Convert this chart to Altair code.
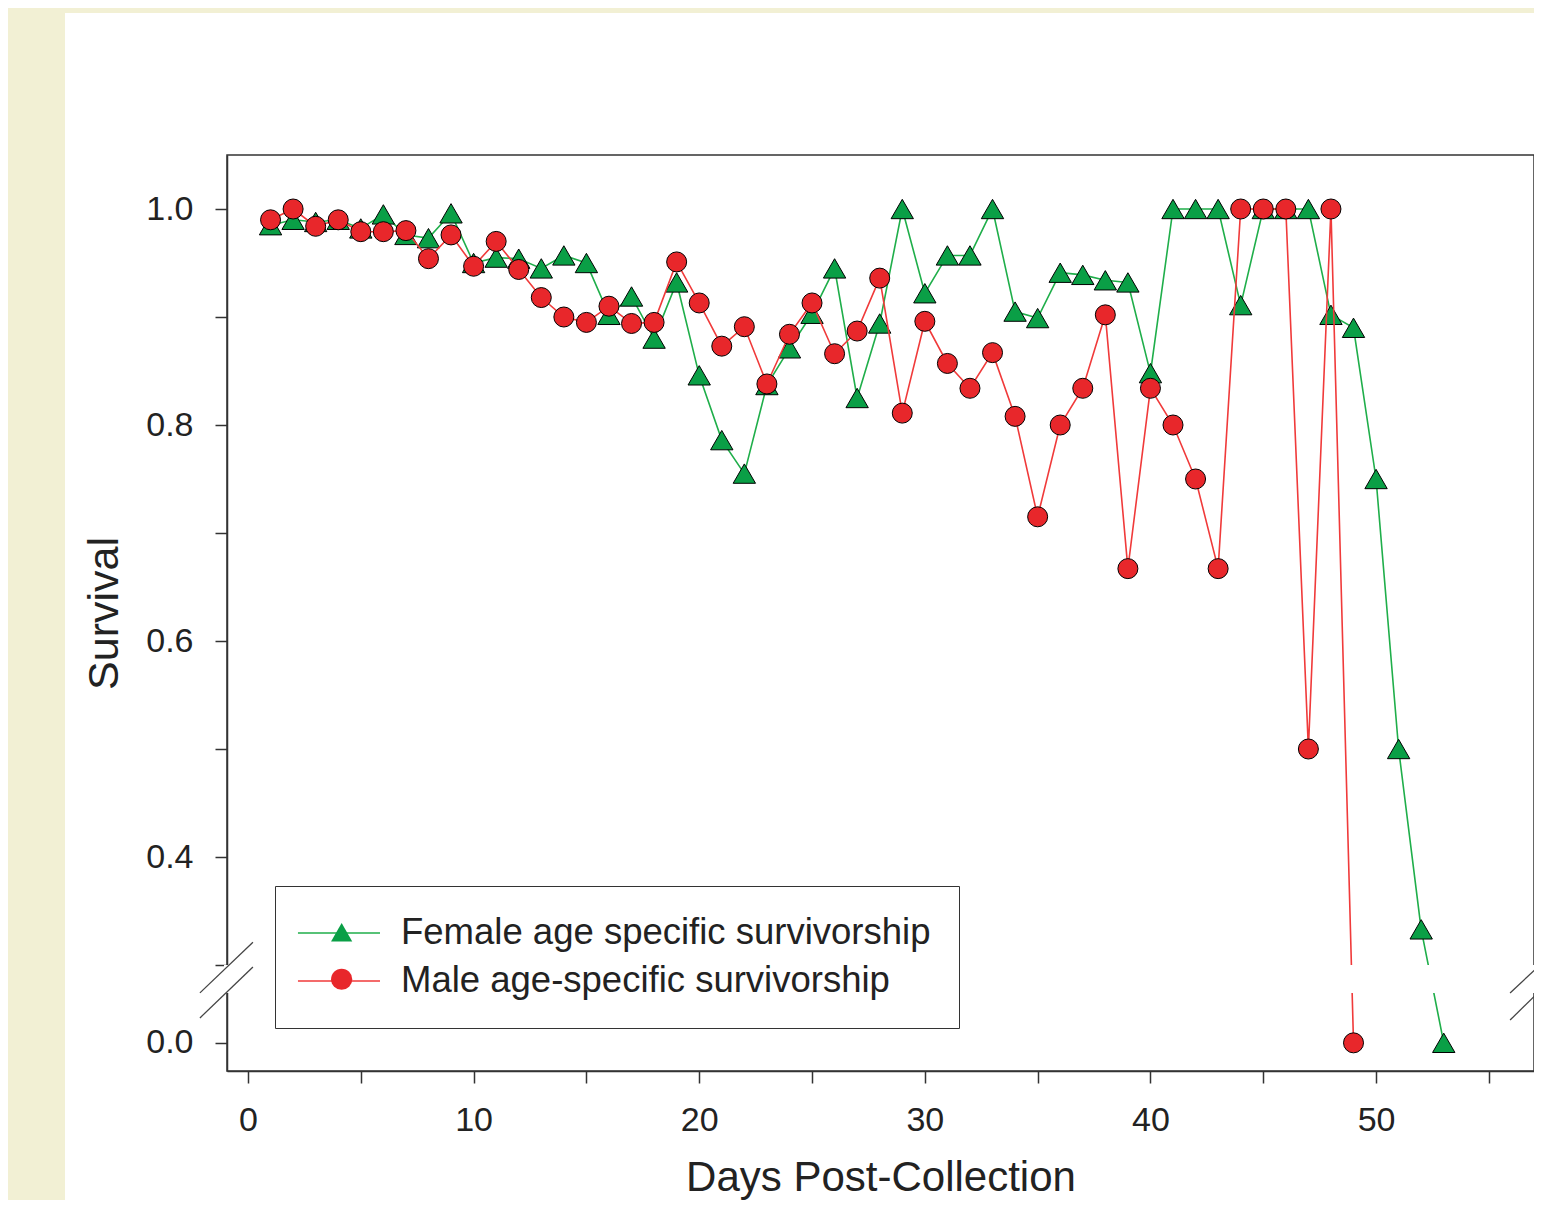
import altair as alt
import pandas as pd

FONT = "Liberation Sans"

F_LABEL = "Female age specific survivorship"
M_LABEL = "Male age-specific survivorship"

days_female = list(range(1, 54))
female = [0.985, 0.99, 0.988, 0.99, 0.982, 0.995, 0.976, 0.973, 0.996, 0.95,
          0.955, 0.954, 0.945, 0.957, 0.95, 0.902, 0.919, 0.88, 0.932, 0.846,
          0.786, 0.755, 0.837, 0.871, 0.903, 0.945, 0.825, 0.894, 1.0, 0.922,
          0.957, 0.957, 1.0, 0.905, 0.899, 0.941, 0.939, 0.934, 0.932, 0.848,
          1.0, 1.0, 1.0, 0.911, 1.0, 1.0, 1.0, 0.902, 0.89, 0.75,
          0.5, 0.333, 0.0]

days_male = list(range(1, 50))
male = [0.99, 1.0, 0.984, 0.99, 0.979, 0.979, 0.98, 0.954, 0.976, 0.947,
        0.97, 0.944, 0.918, 0.90, 0.895, 0.91, 0.894, 0.895, 0.951, 0.913,
        0.873, 0.891, 0.838, 0.884, 0.913, 0.866, 0.887, 0.936, 0.811, 0.896,
        0.857, 0.834, 0.867, 0.808, 0.715, 0.80, 0.834, 0.902, 0.667, 0.834,
        0.80, 0.75, 0.667, 1.0, 1.0, 1.0, 0.5, 1.0, 0.0]

# axis break (values hidden between the two segments)
break_lo = [0.047]
break_hi = [0.299]
# break slash marks: x1, x2 (days), y1, y2 (survival)
slash_x1 = [-2.13, -2.13, 55.94, 55.94]
slash_x2 = [0.22, 0.22, 58.29, 58.29]
slash_y1 = [0.047, 0.023, 0.046, 0.021]
slash_y2 = [0.321, 0.282, 0.320, 0.273]

x_ticks = list(range(0, 56, 5))
y_ticks = [0.0, 0.3, 0.4, 0.5, 0.6, 0.7, 0.8, 0.9, 1.0]

GREEN_LINE = "#1fae4a"
GREEN_FILL = "#0a9f46"
RED_LINE = "#f03a3a"
RED_FILL = "#e8272b"

W, H = 1307, 916

df_f = pd.DataFrame({"day": days_female, "survival": female,
                     "series": F_LABEL, "key": "F"})
df_m = pd.DataFrame({"day": days_male, "survival": male,
                     "series": M_LABEL, "key": "M"})

xscale = alt.Scale(domain=[-0.93, 57.0], zero=False, nice=False)
yscale = alt.Scale(domain=[-0.026, 0.046, 0.3, 1.05], range=[H, 838, 810, 0],
                   zero=False, nice=False)

x_enc = alt.X("day:Q", scale=xscale, title="Days Post-Collection",
              axis=alt.Axis(values=x_ticks, tickSize=12, labelPadding=20,
                            labelFlush=False, titlePadding=20,
                            labelExpr="datum.value % 10 == 0 ? datum.label : ''"))
y_enc = alt.Y("survival:Q", scale=yscale, title="Survival",
              axis=alt.Axis(values=y_ticks, tickSize=12, labelPadding=22,
                            titlePadding=19, titleFontSize=43,
                            labelExpr="round(datum.value*10) % 2 == 0 ? format(datum.value, '.1f') : ''"))

legend_lines = alt.Legend(orient="none", legendX=48, legendY=731, padding=28,
                          strokeColor="#333", fillColor="white", title=None,
                          symbolType="M-2.28,0L2.28,0", symbolSize=1296,
                          symbolStrokeWidth=1.6, symbolOffset=17,
                          labelOffset=43, rowPadding=10, labelFont=FONT,
                          labelFontSize=36.5, labelColor="#222", labelLimit=1000)
legend_marks = alt.Legend(orient="none", legendX=48, legendY=731, padding=28,
                          title=None, symbolSize=450, symbolOffset=20.4,
                          symbolStrokeColor="black", symbolStrokeWidth=1,
                          symbolOpacity=1, labelOffset=43, rowPadding=10,
                          labelFont=FONT, labelFontSize=36.5, labelExpr="''",
                          labelLimit=1000)

color_enc = alt.Color("series:N", scale=alt.Scale(domain=[F_LABEL, M_LABEL],
                                                  range=[GREEN_LINE, RED_LINE]),
                      legend=legend_lines)
fill_enc = alt.Fill("key:N", scale=alt.Scale(domain=["F", "M"],
                                             range=[GREEN_FILL, RED_FILL]),
                    legend=legend_marks)
shape_enc = alt.Shape("key:N", scale=alt.Scale(domain=["F", "M"],
                                               range=["triangle-up", "circle"]),
                      legend=legend_marks)

line_f = alt.Chart(df_f).mark_line(strokeWidth=1.6).encode(x=x_enc, y=y_enc, color=color_enc)
pts_f = alt.Chart(df_f).mark_point(filled=True, stroke="black", strokeWidth=1,
                                   opacity=1, size=500).encode(
    x="day:Q", y="survival:Q", fill=fill_enc, shape=shape_enc)
line_m = alt.Chart(df_m).mark_line(strokeWidth=1.6).encode(x="day:Q", y="survival:Q", color=color_enc)
pts_m = alt.Chart(df_m).mark_point(filled=True, stroke="black", strokeWidth=1,
                                   opacity=1, size=400).encode(
    x="day:Q", y="survival:Q", fill=fill_enc, shape=shape_enc)

band = alt.Chart(pd.DataFrame({"lo": break_lo, "hi": break_hi})).mark_rect(
    color="white").encode(x=alt.value(-3), x2=alt.value(W + 3),
                          y=alt.Y("hi:Q", scale=yscale), y2="lo:Q")

slashes = alt.Chart(pd.DataFrame({"x1": slash_x1, "x2": slash_x2,
                                  "y1": slash_y1, "y2": slash_y2})).mark_rule(
    color="#444", strokeWidth=1.3).encode(
    x=alt.X("x1:Q", scale=xscale), x2="x2:Q",
    y=alt.Y("y1:Q", scale=yscale), y2="y2:Q")

# page decoration: light yellow strips at the left and top
one = pd.DataFrame({"a": [0]})
strip_left = alt.Chart(one).mark_rect(color="#f2f0d4").encode(
    x=alt.value(-219), x2=alt.value(-162), y=alt.value(-147), y2=alt.value(H + 140))
strip_top = alt.Chart(one).mark_rect(color="#f2f0d4").encode(
    x=alt.value(-219), x2=alt.value(W + 10), y=alt.value(-147), y2=alt.value(-142))

chart = alt.layer(strip_left, strip_top, line_f, pts_f, line_m, pts_m, band, slashes).properties(
    width=W, height=H,
    padding={"left": 219, "top": 147, "right": 0, "bottom": 129},
    autosize=alt.AutoSizeParams(type="none"),
).configure(background="white").configure_view(
    stroke="#333", strokeWidth=1.5
).configure_axis(
    labelFont=FONT, titleFont=FONT, labelFontSize=34, titleFontSize=42,
    titleFontWeight="normal", labelColor="#222", titleColor="#222",
    domainColor="#333", tickColor="#333", domainWidth=1.5, tickWidth=1.5,
    grid=False
)

chart.save("out.html", embed_options={"renderer": "svg", "actions": False})
